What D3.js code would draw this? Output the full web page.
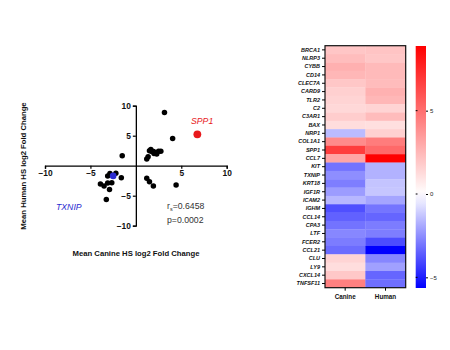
<!DOCTYPE html>
<html>
<head>
<meta charset="utf-8">
<script src="https://cdn.jsdelivr.net/npm/d3@7"></script>
<style>
  html, body { margin: 0; padding: 0; background: #fff; }
  svg { display: block; font-family: Arial, "Liberation Sans", sans-serif; }
</style>
</head>
<body>
<svg id="chart" width="450" height="350"></svg>
<script>
// ---------- DATA ----------
const genes = ["BRCA1","NLRP3","CYBB","CD14","CLEC7A","CARD9","TLR2","C2","C3AR1","BAX",
  "NRP1","COL1A1","SPP1","CCL7","KIT","TXNIP","KRT18","IGF1R","ICAM2","IGHM",
  "CCL14","CPA3","LTF","FCER2","CCL21","CLU","LY9","CXCL14","TNFSF11"];
const canine = [2.0, 2.3, 2.75, 2.5, 1.95, 1.65, 1.5, 1.35, 1.75, 1.2,
  -1.5, 4.05, 6.77, 3.15, -3.1, -2.5, -2.85, -2.2, -1.6, -3.9,
  -3.5, -3.1, -2.65, -2.9, -3.25, 1.5, 1.2, 1.93, 4.43];
const human = [2.05, 1.95, 2.4, 2.4, 2.35, 2.7, 2.5, 1.5, 2.35, 1.1,
  1.65, 4.55, 5.23, 8.88, -1.7, -1.7, -1.3, -1.25, -2.0, -3.05,
  -3.4, -2.9, -2.85, -3.95, -5.64, -2.67, -2.1, -3.38, -3.2];
const columns = ["Canine", "Human"];
const axisTicks = [-10, -5, 5, 10];
const colorbarTicks = [5, 0, -5];
const highlight = { SPP1: "#e8191c", TXNIP: "#2b2bd0" };
const statR = "0.6458";
const statP = "0.0002";

// ---------- SETUP ----------
const svg = d3.select("#chart");
const FONT = "Arial, 'Liberation Sans', sans-serif";

// ---------- SCATTER ----------
const x = d3.scaleLinear().domain([-10, 10]).range([45, 226.7]);
const y = d3.scaleLinear().domain([-10, 10]).range([225.7, 105.7]);

const sc = svg.append("g");
const xAxis = d3.axisBottom(x).tickValues(axisTicks).tickSize(3).tickFormat(d3.format("d"));
const gx = sc.append("g").attr("transform", `translate(0,${y(0)})`).call(xAxis);
const yAxis = d3.axisLeft(y).tickValues(axisTicks).tickSize(3).tickFormat(d3.format("d"));
const gy = sc.append("g").attr("transform", `translate(${x(0)},0)`).call(yAxis);
[gx, gy].forEach(g => {
  g.select(".domain").attr("stroke", "#000").attr("stroke-width", 1.3);
  g.selectAll(".tick line").attr("stroke", "#000").attr("stroke-width", 1.2);
  g.selectAll(".tick text").attr("fill", "#111").attr("font-size", 8.4).attr("font-weight", "bold").attr("font-family", FONT);
});
gx.selectAll(".tick text").attr("dy", "0.9em").attr("y", 3);
gy.selectAll(".tick text").attr("x", -5);

const pts = genes.map((g, i) => ({ gene: g, c: canine[i], h: human[i] }));
const ordered = pts.filter(p => !highlight[p.gene]).concat(pts.filter(p => highlight[p.gene]));
sc.selectAll("circle.pt").data(ordered).join("circle")
  .attr("class", "pt")
  .attr("cx", d => x(d.c)).attr("cy", d => y(d.h))
  .attr("r", d => d.gene === "SPP1" ? 3.9 : (d.gene === "TXNIP" ? 3.3 : 2.75))
  .attr("fill", d => highlight[d.gene] || "#000");

// labels
sc.append("text").attr("x", 191).attr("y", 124).attr("font-size", 8.7).attr("font-style", "italic")
  .attr("fill", highlight.SPP1).attr("font-family", FONT).text("SPP1");
sc.append("text").attr("x", 56).attr("y", 210).attr("font-size", 8.7).attr("font-style", "italic")
  .attr("fill", highlight.TXNIP).attr("font-family", FONT).text("TXNIP");

const rt = sc.append("text").attr("x", 167).attr("y", 209).attr("font-size", 8.7).attr("fill", "#333").attr("font-family", FONT);
rt.append("tspan").text("r");
rt.append("tspan").attr("font-size", 5.5).attr("dy", 2).text("s");
rt.append("tspan").attr("dy", -2).text("=" + statR);
sc.append("text").attr("x", 167).attr("y", 223).attr("font-size", 8.7).attr("fill", "#333").attr("font-family", FONT).text("p=" + statP);

// axis titles
sc.append("text").attr("x", 136).attr("y", 256).attr("text-anchor", "middle").attr("font-size", 7.7)
  .attr("font-weight", "bold").attr("fill", "#111").attr("font-family", FONT).text("Mean Canine HS log2 Fold Change");
sc.append("text").attr("transform", "translate(26,166) rotate(-90)").attr("text-anchor", "middle").attr("font-size", 7.7)
  .attr("font-weight", "bold").attr("fill", "#111").attr("font-family", FONT).text("Mean Human HS log2 Fold Change");

// ---------- HEATMAP ----------
const hmX = d3.scaleBand().domain(columns).range([325, 405.7]);
const hmY = d3.scaleBand().domain(genes).range([45.7, 287.7]);
const vmin = d3.min(canine.concat(human));
const vmax = d3.max(canine.concat(human));
const color = d3.scaleLinear().domain([vmin, 0, vmax]).range(["#0000ff", "#ffffff", "#ff0000"]).clamp(true);

const cells = [];
genes.forEach((g, i) => {
  cells.push({ gene: g, col: "Canine", v: canine[i] });
  cells.push({ gene: g, col: "Human", v: human[i] });
});
const hm = svg.append("g");
hm.selectAll("rect.cell").data(cells).join("rect")
  .attr("class", "cell")
  .attr("x", d => hmX(d.col)).attr("y", d => hmY(d.gene))
  .attr("width", hmX.bandwidth() + 0.3).attr("height", hmY.bandwidth() + 0.3)
  .attr("fill", d => color(d.v));
hm.append("rect").attr("x", 325).attr("y", 45.7).attr("width", 80.7).attr("height", 242)
  .attr("fill", "none").attr("stroke", "#111").attr("stroke-width", 1.2);

const hmLeft = hm.append("g").attr("transform", "translate(325,0)").call(d3.axisLeft(hmY).tickSize(3).tickPadding(2));
hmLeft.select(".domain").remove();
hmLeft.selectAll(".tick line").attr("stroke", "#000");
hmLeft.selectAll(".tick text").attr("font-size", 5.5).attr("font-weight", "bold").attr("font-style", "italic")
  .attr("fill", "#111").attr("font-family", FONT);

const hmBottom = hm.append("g").attr("transform", "translate(0,287.7)").call(d3.axisBottom(hmX).tickSize(3).tickPadding(4));
hmBottom.select(".domain").remove();
hmBottom.selectAll(".tick line").attr("stroke", "#000");
hmBottom.selectAll(".tick text").attr("font-size", 6.3).attr("font-weight", "bold")
  .attr("fill", "#111").attr("font-family", FONT);

// ---------- COLORBAR ----------
const cbY = d3.scaleLinear().domain([vmin, vmax]).range([288, 46]);
const defs = svg.append("defs");
const grad = defs.append("linearGradient").attr("id", "cbgrad").attr("x1", 0).attr("y1", 1).attr("x2", 0).attr("y2", 0);
d3.range(0, 1.0001, 0.05).forEach(t => {
  const v = vmin + t * (vmax - vmin);
  grad.append("stop").attr("offset", t).attr("stop-color", color(v));
});
svg.append("rect").attr("x", 415.7).attr("y", 46).attr("width", 10.3).attr("height", 242).attr("fill", "url(#cbgrad)");
const cb = svg.append("g").attr("transform", "translate(426,0)")
  .call(d3.axisRight(cbY).tickValues(colorbarTicks).tickSize(2).tickPadding(2).tickFormat(d3.format("d")));
cb.select(".domain").remove();
cb.selectAll(".tick line").attr("stroke", "#000");
cb.selectAll(".tick text").attr("font-size", 6).attr("fill", "#222").attr("font-family", FONT);
svg.append("g").selectAll("line").data(colorbarTicks).join("line")
  .attr("x1", 415.7).attr("x2", 417.5).attr("y1", d => cbY(d)).attr("y2", d => cbY(d)).attr("stroke", "#000");
</script>
</body>
</html>
